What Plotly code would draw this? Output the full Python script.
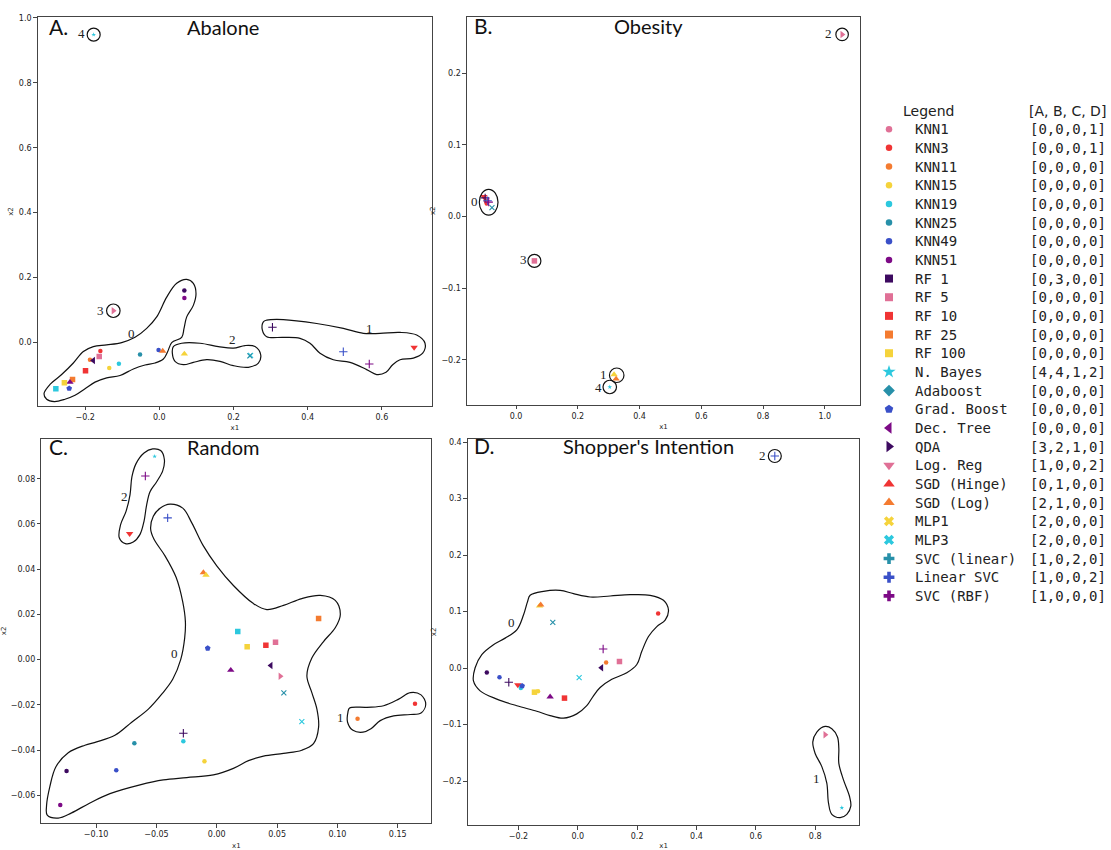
import plotly.graph_objects as go

# ---------------- legend data ----------------
MODELS = ["KNN1", "KNN3", "KNN11", "KNN15", "KNN19", "KNN25", "KNN49", "KNN51",
          "RF 1", "RF 5", "RF 10", "RF 25", "RF 100", "N. Bayes", "Adaboost",
          "Grad. Boost", "Dec. Tree", "QDA", "Log. Reg", "SGD (Hinge)", "SGD (Log)",
          "MLP1", "MLP3", "SVC (linear)", "Linear SVC", "SVC (RBF)"]
CLUSTER_IDS = ["[0,0,0,1]", "[0,0,0,1]", "[0,0,0,0]", "[0,0,0,0]", "[0,0,0,0]",
               "[0,0,0,0]", "[0,0,0,0]", "[0,0,0,0]", "[0,3,0,0]", "[0,0,0,0]",
               "[0,0,0,0]", "[0,0,0,0]", "[0,0,0,0]", "[4,4,1,2]", "[0,0,0,0]",
               "[0,0,0,0]", "[0,0,0,0]", "[3,2,1,0]", "[1,0,0,2]", "[0,1,0,0]",
               "[2,1,0,0]", "[2,0,0,0]", "[2,0,0,0]", "[1,0,2,0]", "[1,0,0,2]",
               "[1,0,0,0]"]

# ---------------- panel A: Abalone ----------------
A_MODELS = ["KNN1", "KNN51", "KNN3", "KNN11", "Dec. Tree", "RF 5", "KNN15", "KNN19",
            "KNN25", "KNN49", "SGD (Hinge)", "SGD (Log)", "MLP3", "MLP1", "RF 10",
            "RF 25", "Adaboost", "RF 100", "RF 1", "Grad. Boost", "SVC (linear)",
            "Linear SVC", "SVC (RBF)", "Log. Reg", "QDA", "N. Bayes"]
A_X = [0.0675, 0.0675, -0.159, -0.187, -0.178, -0.162, -0.135, -0.109, -0.052, -0.002,
       0.009, 0.0675, 0.246, 0.244, -0.199, -0.234, -0.241, -0.256, -0.279, -0.243,
       0.305, 0.496, 0.566, 0.687, -0.124, -0.177]
A_Y = [0.160, 0.137, -0.026, -0.053, -0.055, -0.043, -0.078, -0.065, -0.037, -0.023,
       -0.026, -0.035, -0.039, -0.041, -0.087, -0.114, -0.122, -0.124, -0.142, -0.141,
       0.047, -0.028, -0.066, -0.015, 0.098, 0.948]
A_C0_X = [0.0738, 0.0917, 0.0989, 0.0917, 0.0738, 0.0666, 0.0603, 0.0334, 0.0226, 0.0109,
          -0.0116, -0.0386, -0.0700, -0.1060, -0.1419, -0.1734, -0.2003, -0.2273, -0.2543,
          -0.2830, -0.3037, -0.3109, -0.2947, -0.2633, -0.2318, -0.2048, -0.1779, -0.1419,
          -0.1015, -0.0655, -0.0341, -0.0071, 0.0199, 0.0468]
A_C0_Y = [0.1947, 0.1826, 0.1501, 0.1146, 0.0791, 0.0436, 0.0162, 0.0, -0.0274, -0.0507,
          -0.0629, -0.0690, -0.0811, -0.1014, -0.1085, -0.1217, -0.1420, -0.1623, -0.1744,
          -0.1815, -0.1744, -0.1572, -0.1288, -0.0984, -0.0629, -0.0274, -0.0122, -0.0071,
          0.0, 0.0162, 0.0436, 0.0791, 0.1400, 0.1826]
A_C1_X = [0.2895, 0.3343, 0.4242, 0.4961, 0.5500, 0.5950, 0.6489, 0.6939, 0.7163, 0.7100,
          0.6849, 0.6489, 0.6291, 0.6112, 0.5860, 0.5590, 0.5141, 0.4691, 0.4332, 0.4062,
          0.3793, 0.3343, 0.2895, 0.2778, 0.2805]
A_C1_Y = [0.0690, 0.0710, 0.0588, 0.0436, 0.0284, 0.0284, 0.0314, 0.0233, -0.0020, -0.0325,
          -0.0477, -0.0527, -0.0680, -0.0913, -0.0984, -0.0832, -0.0609, -0.0527, -0.0325,
          -0.0020, 0.0132, 0.0162, 0.0183, 0.0385, 0.0639]
A_C2_X = [0.0378, 0.0603, 0.1097, 0.1592, 0.1996, 0.2311, 0.2580, 0.2733, 0.2670, 0.2400,
          0.1996, 0.1636, 0.1277, 0.0917, 0.0648, 0.0423, 0.0351]
A_C2_Y = [-0.0122, -0.0020, -0.0020, -0.0122, -0.0172, -0.0091, -0.0122, -0.0375, -0.0629,
          -0.0761, -0.0710, -0.0578, -0.0527, -0.0609, -0.0680, -0.0578, -0.0325]
A_RING_X = [-0.177, -0.124]
A_RING_Y = [0.948, 0.098]
A_LAB = ["0", "1", "2", "3", "4"]
A_LAB_X = [-0.0754, 0.5657, 0.1960, -0.158, -0.2102]
A_LAB_Y = [0.0284, 0.0436, 0.0081, 0.0984, 0.9503]

# ---------------- panel B: Obesity ----------------
B_MODELS = ["QDA", "RF 5", "SGD (Log)", "SGD (Hinge)", "N. Bayes", "KNN51", "KNN11",
            "Log. Reg", "KNN3", "SVC (linear)", "Linear SVC", "SVC (RBF)", "MLP1"]
B_X = [1.056, 0.0594, 0.3175, 0.324, 0.3035, -0.098, -0.097, -0.104, -0.095, -0.100,
       -0.092, -0.0886, -0.078]
B_Y = [0.254, -0.062, -0.2207, -0.2267, -0.238, 0.022, 0.021, 0.0276, 0.018, 0.026,
       0.022, 0.020, 0.0124]
B_RING_X = [1.056, 0.0594, 0.326, 0.3035]
B_RING_Y = [0.254, -0.062, -0.2216, -0.238]
B_OVAL = [-0.119, 0.0019, -0.0584, 0.0377]
B_LAB = ["0", "1", "2", "3", "4"]
B_LAB_X = [-0.135, 0.284, 1.013, 0.0227, 0.2667]
B_LAB_Y = [0.0207, -0.2207, 0.2552, -0.0607, -0.2382]

# ---------------- panel C: Random ----------------
C_MODELS = ["N. Bayes", "SVC (RBF)", "Log. Reg", "Linear SVC", "SGD (Hinge)", "SGD (Log)",
            "RF 1", "Grad. Boost", "RF 100", "RF 10", "RF 5", "RF 25", "Adaboost",
            "Dec. Tree", "QDA", "MLP1", "MLP3", "SVC (linear)", "KNN19", "KNN25", "KNN15",
            "KNN49", "KNN1", "KNN51", "KNN11", "KNN3"]
C_X = [-0.0515, -0.0592, -0.0722, -0.0407, -0.0111, -0.0089, 0.0174, -0.0075, 0.0252,
       0.0407, 0.0487, 0.0844, 0.0116, 0.0448, 0.0526, 0.0556, 0.0705, -0.0277, -0.0277,
       -0.0683, -0.0102, -0.0833, -0.1245, -0.1297, 0.1167, 0.1643]
C_Y = [0.0899, 0.0812, 0.0557, 0.0627, 0.0385, 0.0374, 0.0124, 0.0050, 0.0057, 0.0063,
       0.0077, 0.0182, -0.0047, -0.0026, -0.0074, -0.0147, -0.0274, -0.0326, -0.0361,
       -0.0370, -0.0450, -0.0490, -0.0493, -0.0643, -0.0262, -0.0195]
C_C0_X = [-0.0387, -0.0282, -0.0207, -0.0111, 0.0, 0.0138, 0.0304, 0.0415, 0.0553, 0.0705,
          0.0858, 0.0982, 0.1024, 0.0982, 0.0885, 0.0788, 0.0747, 0.0788, 0.0830, 0.0844,
          0.0802, 0.0705, 0.0553, 0.0387, 0.0263, 0.0138, -0.0028, -0.0249, -0.0443,
          -0.0636, -0.0885, -0.1051, -0.1203, -0.1314, -0.1405, -0.1411, -0.1383, -0.1333,
          -0.1231, -0.1093, -0.0996, -0.0844, -0.0705, -0.0567, -0.0456, -0.0365, -0.0299,
          -0.0266, -0.0260, -0.0282, -0.0337, -0.0429, -0.0520, -0.0548, -0.0526, -0.0470]
C_C0_Y = [0.0688, 0.0670, 0.0605, 0.0503, 0.0415, 0.0328, 0.0248, 0.0221, 0.0240, 0.0270,
          0.0284, 0.0262, 0.0200, 0.0141, 0.0080, 0.0007, -0.0073, -0.0146, -0.0219, -0.0299,
          -0.0372, -0.0401, -0.0415, -0.0427, -0.0447, -0.0481, -0.0510, -0.0522, -0.0532,
          -0.0554, -0.0593, -0.0634, -0.0678, -0.0701, -0.0688, -0.0648, -0.0561, -0.0474,
          -0.0412, -0.0379, -0.0364, -0.0335, -0.0277, -0.0219, -0.0153, -0.0087, 0.0,
          0.0095, 0.0168, 0.0255, 0.0364, 0.0459, 0.0532, 0.0578, 0.0634, 0.0670]
C_C1_X = [0.1101, 0.1245, 0.1383, 0.1508, 0.1604, 0.1693, 0.1732, 0.1693, 0.1604, 0.1466,
          0.1355, 0.1278, 0.1212, 0.1129, 0.1084, 0.1087]
C_C1_Y = [-0.0214, -0.0211, -0.0204, -0.0175, -0.0146, -0.0156, -0.0197, -0.0236, -0.0243,
          -0.0249, -0.0270, -0.0306, -0.0321, -0.0313, -0.0277, -0.0233]
C_C2_X = [-0.0531, -0.0465, -0.0434, -0.0448, -0.0498, -0.0553, -0.0581, -0.0603, -0.0636,
          -0.0692, -0.0758, -0.0808, -0.0797, -0.0752, -0.0719, -0.0703, -0.0669, -0.0603]
C_C2_Y = [0.0932, 0.0925, 0.0884, 0.0835, 0.0787, 0.0743, 0.0685, 0.0612, 0.0554, 0.0520,
          0.0513, 0.0539, 0.0597, 0.0656, 0.0729, 0.0809, 0.0867, 0.0914]
C_LAB = ["0", "1", "2"]
C_LAB_X = [-0.0354, 0.1024, -0.0766]
C_LAB_Y = [0.0026, -0.0255, 0.0721]

# ---------------- panel D: Shopper's Intention ----------------
D_MODELS = ["Linear SVC", "SGD (Log)", "SGD (Hinge)", "MLP1", "KNN3", "SVC (RBF)", "KNN11",
            "RF 5", "Dec. Tree", "MLP3", "KNN1", "KNN49", "SVC (linear)", "Log. Reg",
            "KNN19", "Grad. Boost", "RF 100", "KNN15", "Adaboost", "RF 10", "QDA", "N. Bayes"]
D_X = [0.664, -0.129, -0.125, -0.0843, 0.2708, 0.0854, 0.0955, 0.1404, 0.0798, 0.0045,
       -0.3067, -0.264, -0.2326, -0.2022, -0.192, -0.1876, -0.1461, -0.134, -0.0933,
       -0.0449, 0.8337, 0.8899]
D_Y = [0.3755, 0.110, 0.112, 0.081, 0.0968, 0.0338, 0.0099, 0.0117, 0.0006, -0.0169,
       -0.0076, -0.0163, -0.0251, -0.0297, -0.035, -0.0315, -0.0426, -0.041, -0.0507,
       -0.0531, -0.1178, -0.2472]
D_C0_X = [-0.1607, -0.1157, -0.0596, -0.0146, 0.0416, 0.1090, 0.1764, 0.2438, 0.2888, 0.3056,
          0.2944, 0.2663, 0.2382, 0.2157, 0.1989, 0.1652, 0.1146, 0.0753, 0.0528, 0.0303,
          -0.0034, -0.0483, -0.0933, -0.1382, -0.2056, -0.2730, -0.3292, -0.3517, -0.3461,
          -0.3236, -0.2843, -0.2449, -0.2056, -0.1831, -0.1697]
D_C0_Y = [0.1289, 0.1359, 0.1376, 0.1318, 0.1259, 0.1277, 0.1300, 0.1289, 0.1201, 0.1026,
          0.0851, 0.0735, 0.0560, 0.0297, 0.0064, -0.0082, -0.0198, -0.0344, -0.0490,
          -0.0665, -0.0810, -0.0886, -0.0840, -0.0764, -0.0665, -0.0548, -0.0402, -0.0227,
          0.0006, 0.0239, 0.0414, 0.0531, 0.0676, 0.0939, 0.1172]
D_C1_X = [0.8337, 0.8562, 0.8753, 0.8798, 0.8798, 0.8955, 0.9157, 0.9202, 0.9067, 0.8843,
          0.8562, 0.8449, 0.8393, 0.8225, 0.8000, 0.7921, 0.8056]
D_C1_Y = [-0.1032, -0.1073, -0.1219, -0.1423, -0.1685, -0.1977, -0.2268, -0.2443, -0.2589,
          -0.2647, -0.2589, -0.2385, -0.2035, -0.1743, -0.1510, -0.1306, -0.1131]
D_RING_X = [0.664]
D_RING_Y = [0.3755]
D_LAB = ["0", "1", "2"]
D_LAB_X = [-0.2236, 0.8056, 0.6236]
D_LAB_Y = [0.0799, -0.1948, 0.3767]

# ---------------- styles ----------------
PINK, RED, ORANGE, YELLOW = "#e07096", "#f03434", "#f47b30", "#f5d33b"
CYAN, TEAL, BLUE, PURPLE, DPURPLE = "#2cc8de", "#2790a9", "#3a50c8", "#7d0a86", "#3d0a60"

LEGEND_STYLE = {
    "KNN1": ("circle", PINK), "KNN3": ("circle", RED), "KNN11": ("circle", ORANGE),
    "KNN15": ("circle", YELLOW), "KNN19": ("circle", CYAN), "KNN25": ("circle", TEAL),
    "KNN49": ("circle", BLUE), "KNN51": ("circle", PURPLE),
    "RF 1": ("square", DPURPLE), "RF 5": ("square", PINK), "RF 10": ("square", RED),
    "RF 25": ("square", ORANGE), "RF 100": ("square", YELLOW),
    "N. Bayes": ("star", CYAN), "Adaboost": ("diamond", TEAL), "Grad. Boost": ("pentagon", BLUE),
    "Dec. Tree": ("triangle-left", PURPLE), "QDA": ("triangle-right", DPURPLE),
    "Log. Reg": ("triangle-down", PINK), "SGD (Hinge)": ("triangle-up", RED),
    "SGD (Log)": ("triangle-up", ORANGE), "MLP1": ("x", YELLOW), "MLP3": ("x", CYAN),
    "SVC (linear)": ("cross", TEAL), "Linear SVC": ("cross", BLUE), "SVC (RBF)": ("cross", PURPLE),
}
SCATTER_STYLE = {
    "KNN1": ("circle", DPURPLE), "KNN3": ("circle", RED), "KNN11": ("circle", ORANGE),
    "KNN15": ("circle", YELLOW), "KNN19": ("circle", CYAN), "KNN25": ("circle", TEAL),
    "KNN49": ("circle", BLUE), "KNN51": ("circle", PURPLE),
    "RF 1": ("square", CYAN), "RF 5": ("square", PINK), "RF 10": ("square", RED),
    "RF 25": ("square", ORANGE), "RF 100": ("square", YELLOW),
    "N. Bayes": ("star", CYAN), "Adaboost": ("triangle-up", PURPLE),
    "Grad. Boost": ("pentagon", BLUE), "Dec. Tree": ("triangle-left", DPURPLE),
    "QDA": ("triangle-right", PINK), "Log. Reg": ("triangle-down", RED),
    "SGD (Hinge)": ("triangle-up", ORANGE), "SGD (Log)": ("triangle-up", YELLOW),
    "MLP1": ("x-thin", TEAL), "MLP3": ("x-thin", CYAN),
    "SVC (linear)": ("cross-thin", DPURPLE), "Linear SVC": ("cross-thin", BLUE),
    "SVC (RBF)": ("cross-thin", PURPLE),
}
SCATTER_SIZE = {"circle": 4.5, "square": 5.5, "star": 3.5, "pentagon": 6, "triangle-left": 6.5,
                "triangle-right": 6.5, "triangle-down": 6.5, "triangle-up": 6.5,
                "x-thin": 5, "cross-thin": 6}
LEGEND_SIZE = {"circle": 6.5, "square": 8, "star": 10, "diamond": 9, "pentagon": 9,
               "triangle-left": 10, "triangle-right": 10, "triangle-down": 10,
               "triangle-up": 10, "x": 9, "cross": 9}

fig = go.Figure()


def add_panel(n, models, xs, ys, contours, rings, ring_sizes, labs, lx, ly):
    xa, ya = ("x", "y") if n == 1 else (f"x{n}", f"y{n}")
    for cx, cy in contours:
        fig.add_trace(go.Scatter(x=list(cx) + [cx[0]], y=list(cy) + [cy[0]], mode="lines",
                                 line=dict(color="#111", width=1.2, shape="spline", smoothing=1.0),
                                 xaxis=xa, yaxis=ya, hoverinfo="skip", showlegend=False))
    sym = [SCATTER_STYLE[m][0] for m in models]
    col = [SCATTER_STYLE[m][1] for m in models]
    size = [SCATTER_SIZE[s] for s in sym]
    lw = [1.1 if s.endswith("thin") else 0 for s in sym]
    fig.add_trace(go.Scatter(x=xs, y=ys, mode="markers", text=models, xaxis=xa, yaxis=ya,
                             marker=dict(symbol=sym, color=col, size=size, opacity=1,
                                         line=dict(color=col, width=lw)),
                             showlegend=False, hoverinfo="text"))
    if rings:
        fig.add_trace(go.Scatter(x=rings[0], y=rings[1], mode="markers", xaxis=xa, yaxis=ya,
                                 marker=dict(symbol="circle-open", size=ring_sizes, opacity=1,
                                             color="#111", line=dict(width=1.2)),
                                 showlegend=False, hoverinfo="skip"))
    for t, x, y in zip(labs, lx, ly):
        fig.add_annotation(x=x, y=y, xref=xa, yref=ya, text=t, showarrow=False,
                           xanchor="center", yanchor="middle",
                           font=dict(family="Liberation Serif", size=13, color="#222"))


add_panel(1, A_MODELS, A_X, A_Y, [(A_C0_X, A_C0_Y), (A_C1_X, A_C1_Y), (A_C2_X, A_C2_Y)],
          (A_RING_X, A_RING_Y), [13, 13.5], A_LAB, A_LAB_X, A_LAB_Y)
add_panel(2, B_MODELS, B_X, B_Y, [], (B_RING_X, B_RING_Y), [12.5, 13, 14.5, 13.5],
          B_LAB, B_LAB_X, B_LAB_Y)
add_panel(3, C_MODELS, C_X, C_Y, [(C_C0_X, C_C0_Y), (C_C1_X, C_C1_Y), (C_C2_X, C_C2_Y)],
          None, None, C_LAB, C_LAB_X, C_LAB_Y)
add_panel(4, D_MODELS, D_X, D_Y, [(D_C0_X, D_C0_Y), (D_C1_X, D_C1_Y)],
          (D_RING_X, D_RING_Y), [13], D_LAB, D_LAB_X, D_LAB_Y)

fig.add_shape(type="circle", xref="x2", yref="y2", x0=B_OVAL[0], y0=B_OVAL[1],
              x1=B_OVAL[2], y1=B_OVAL[3], line=dict(color="#111", width=1.2))

# ---------------- legend panel ----------------
rows = list(range(1, len(MODELS) + 1))
lsym = [LEGEND_STYLE[m][0] for m in MODELS]
lcol = [LEGEND_STYLE[m][1] for m in MODELS]
fig.add_trace(go.Scatter(x=[19] * len(MODELS), y=rows, mode="markers", xaxis="x5", yaxis="y5",
                         marker=dict(symbol=lsym, color=lcol, size=[LEGEND_SIZE[s] for s in lsym],
                                     opacity=1, line=dict(width=0)),
                         showlegend=False, hoverinfo="skip"))
fig.add_annotation(x=58.5, y=0, xref="x5", yref="y5", text="Legend", showarrow=False,
                   xanchor="center", yanchor="middle",
                   font=dict(family="DejaVu Sans", size=14, color="#222"))
fig.add_annotation(x=238, y=0, xref="x5", yref="y5", text="[A, B, C, D]", showarrow=False,
                   xanchor="right", yanchor="middle",
                   font=dict(family="DejaVu Sans", size=14, color="#222"))
for r, m, c in zip(rows, MODELS, CLUSTER_IDS):
    fig.add_annotation(x=43, y=r, xref="x5", yref="y5", text=m, showarrow=False,
                       xanchor="left", yanchor="middle",
                       font=dict(family="DejaVu Sans Mono", size=14, color="#222"))
    fig.add_annotation(x=238, y=r, xref="x5", yref="y5", text=c, showarrow=False,
                       xanchor="right", yanchor="middle",
                       font=dict(family="DejaVu Sans Mono", size=14, color="#222"))

# ---------------- titles ----------------
PANEL_TITLES = [("A.", "Abalone"), ("B.", "Obesity"), ("C.", "Random"), ("D.", "Shopper's Intention")]
W, H = 1111, 850
title_pos = [(47, 223, 23), (472, 648, 22), (47, 223, 448), (472, 648, 447)]
for (letter, name), (lx_, cx_, cy_) in zip(PANEL_TITLES, title_pos):
    fig.add_annotation(x=lx_ / W, y=1 - cy_ / H, xref="paper", yref="paper", text=letter,
                       showarrow=False, xanchor="left", yanchor="middle",
                       font=dict(family="Lato", size=21, color="#111"))
    fig.add_annotation(x=cx_ / W, y=1 - cy_ / H, xref="paper", yref="paper", text=name,
                       showarrow=False, xanchor="center", yanchor="middle",
                       font=dict(family="Lato", size=20, color="#111"))

axis_common = dict(showgrid=False, zeroline=False, showline=True, mirror=True,
                   linecolor="#444", linewidth=1, ticks="outside", ticklen=3.5, tickwidth=0.8,
                   tickcolor="#444", tickfont=dict(family="DejaVu Sans", size=8, color="#222"))
title_font = dict(family="DejaVu Sans", size=7, color="#222")


def ax(domain, rng, dtick, fmt, anchor, title):
    d = dict(axis_common)
    d.update(domain=domain, range=rng, dtick=dtick, tick0=0, tickformat=fmt, anchor=anchor,
             title=dict(text=title, font=title_font, standoff=4))
    return d


fig.update_layout(
    width=W, height=H, margin=dict(l=0, r=0, t=0, b=0),
    plot_bgcolor="white", paper_bgcolor="white", showlegend=False,
    xaxis=ax([0.0339, 0.3888], [-0.328, 0.735], 0.2, ".1f", "y", "x1"),
    yaxis=ax([0.5215, 0.9844], [-0.195, 1.002], 0.2, ".1f", "x", "x2"),
    xaxis2=ax([0.4203, 0.7741], [-0.159, 1.114], 0.2, ".1f", "y2", "x1"),
    yaxis2=ax([0.5227, 0.9851], [-0.263, 0.279], 0.1, ".1f", "x2", "x2"),
    xaxis3=ax([0.0372, 0.3882], [-0.1454, 0.1778], 0.05, ".2f", "y3", "x1"),
    yaxis3=ax([0.0247, 0.4827], [-0.0724, 0.0978], 0.02, ".2f", "x3", "x2"),
    xaxis4=ax([0.4210, 0.7735], [-0.371, 0.949], 0.2, ".1f", "y4", "x1"),
    yaxis4=ax([0.0224, 0.4827], [-0.278, 0.4064], 0.1, ".1f", "x4", "x2"),
    xaxis5=dict(domain=[870 / W, 1.0], range=[0, 241], visible=False, anchor="y5"),
    yaxis5=dict(domain=[0, 1], range=[39.29, -5.707], visible=False, anchor="x5"),
)

fig.write_html("out.html", config={"displayModeBar": False},
               post_script="document.body.style.margin='0';document.body.style.overflow='hidden';")
